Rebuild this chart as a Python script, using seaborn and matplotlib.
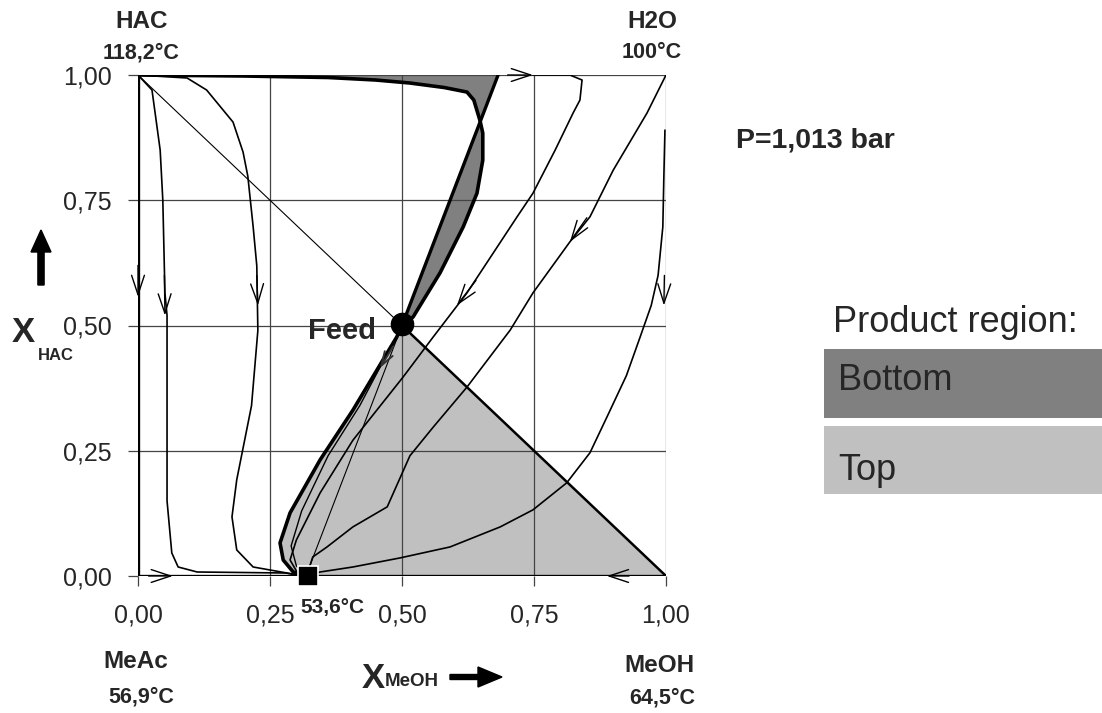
import numpy as np
import pandas as pd
import matplotlib
matplotlib.use("Agg")
import matplotlib.pyplot as plt
import seaborn as sns
from matplotlib.patches import Polygon, Rectangle, FancyArrow
from matplotlib.patches import ArrowStyle

# ---------------- data ----------------
tick_values = [0.0, 0.25, 0.5, 0.75, 1.0]
tick_labels = ["0,00", "0,25", "0,50", "0,75", "1,00"]

# binary edges
edge_left_x = [0.0, 0.0]
edge_left_y = [1.0, 0.0]
edge_bottom_x = [0.0, 1.0]
edge_bottom_y = [0.0, 0.0]

# residue curves (left family)
rc1_x = [0.0, 0.0265, 0.042, 0.047, 0.051, 0.055, 0.055, 0.064, 0.076, 0.112, 0.28, 0.31]
rc1_y = [1.0, 0.97, 0.85, 0.75, 0.565, 0.52, 0.15, 0.046, 0.018, 0.008, 0.006, 0.0]
rc2_x = [0.0, 0.093, 0.13, 0.18, 0.199, 0.208, 0.218, 0.225, 0.227, 0.215, 0.187, 0.178, 0.187, 0.218, 0.282, 0.315]
rc2_y = [1.0, 0.994, 0.97, 0.906, 0.846, 0.798, 0.698, 0.619, 0.49, 0.34, 0.192, 0.118, 0.052, 0.018, 0.006, 0.0]

# separatrix / product region boundaries
sep_top_x = [0.0, 0.2, 0.36, 0.45, 0.515, 0.58, 0.623, 0.636, 0.648, 0.653, 0.653, 0.642, 0.616, 0.572, 0.521, 0.5]
sep_top_y = [1.0, 0.998, 0.995, 0.99, 0.984, 0.975, 0.966, 0.95, 0.908, 0.884, 0.83, 0.764, 0.697, 0.605, 0.517, 0.5]
sep_line_x = [0.682, 0.5]
sep_line_y = [1.0, 0.5]
sep_low_x = [0.5, 0.49, 0.407, 0.345, 0.288, 0.269, 0.275, 0.294, 0.322]
sep_low_y = [0.5, 0.477, 0.331, 0.232, 0.126, 0.066, 0.032, 0.008, 0.0]
top_tri_x = [0.5, 1.0]
top_tri_y = [0.5, 0.0]

# residue curves (right family)
rcA_x = [0.748, 0.818, 0.841, 0.837, 0.824, 0.79, 0.748, 0.718, 0.623, 0.559, 0.502, 0.407, 0.345, 0.30, 0.288, 0.30, 0.318]
rcA_y = [1.0, 1.0, 0.99, 0.95, 0.924, 0.85, 0.764, 0.717, 0.565, 0.477, 0.397, 0.271, 0.166, 0.072, 0.032, 0.01, 0.0]
rcB_x = [1.0, 0.964, 0.9, 0.856, 0.818, 0.748, 0.705, 0.623, 0.559, 0.515, 0.472, 0.407, 0.358, 0.331, 0.32]
rcB_y = [1.0, 0.924, 0.81, 0.717, 0.667, 0.565, 0.491, 0.377, 0.297, 0.24, 0.138, 0.098, 0.058, 0.038, 0.002]
rcC_x = [0.998, 0.996, 0.994, 0.985, 0.972, 0.951, 0.925, 0.888, 0.856, 0.812, 0.748, 0.686, 0.591, 0.496, 0.407, 0.345, 0.322]
rcC_y = [0.89, 0.80, 0.697, 0.60, 0.54, 0.477, 0.40, 0.317, 0.246, 0.186, 0.132, 0.098, 0.058, 0.036, 0.018, 0.008, 0.0]
rcD_x = [0.495, 0.47, 0.42, 0.36, 0.31, 0.29, 0.30, 0.32]
rcD_y = [0.485, 0.44, 0.34, 0.24, 0.13, 0.06, 0.02, 0.0]

# straight balance lines
diag_x = [0.0, 0.5]
diag_y = [1.0, 0.5]
bal_x = [0.318, 0.5]
bal_y = [0.0, 0.5]

# special points
feed_x, feed_y = 0.5, 0.503
azeo_x, azeo_y = 0.322, 0.0

# arrowheads: (tip_x, tip_y, tail_x, tail_y)
arrow_tips = [
    (0.0, 0.557, 0.0, 0.62),
    (0.051, 0.52, 0.05, 0.60),
    (0.227, 0.54, 0.225, 0.60),
    (0.748, 1.0, 0.70, 1.0),
    (0.604, 0.54, 0.64, 0.59),
    (0.818, 0.667, 0.85, 0.715),
    (0.996, 0.54, 0.997, 0.60),
    (0.066, 0.0, 0.02, 0.0),
    (0.888, 0.0, 0.93, 0.0),
]

# legend
legend_labels = ["Bottom", "Top"]
legend_colors = ["#808080", "#c0c0c0"]

# ---------------- plot ----------------
sns.set_style("white")
plt.rcParams["font.family"] = ["Liberation Sans", "DejaVu Sans"]

W, H = 1102, 713
fig = plt.figure(figsize=(W / 100, H / 100), dpi=100)
ax = fig.add_axes([138 / W, 1 - 576 / H, 528 / W, 501 / H])
ax.set_xlim(0, 1)
ax.set_ylim(0, 1)


def line(x, y, lw, color="black", z=3):
    df = pd.DataFrame({"x": x, "y": y})
    sns.lineplot(data=df, x="x", y="y", sort=False, estimator=None, ax=ax,
                 color=color, lw=lw, zorder=z)


# regions
light = list(zip(top_tri_x, top_tri_y)) + [(azeo_x, 0.0)] + list(zip(sep_low_x[::-1], sep_low_y[::-1]))
ax.add_patch(Polygon(light, closed=True, facecolor="#c0c0c0", edgecolor="none", zorder=1))
dark = list(zip(sep_top_x, sep_top_y)) + list(zip(sep_line_x[::-1], sep_line_y[::-1]))
ax.add_patch(Polygon(dark, closed=True, facecolor="#808080", edgecolor="none", zorder=1))

# grid
for v in tick_values:
    ax.axvline(v, color="#444444", lw=0.9, zorder=2)
    ax.axhline(v, color="#444444", lw=0.9, zorder=2)

# curves
line(edge_left_x, edge_left_y, 2.4)
line(edge_bottom_x, edge_bottom_y, 2.4)
line(rc1_x, rc1_y, 1.2)
line(rc2_x, rc2_y, 1.2)
line(rcA_x, rcA_y, 1.2)
line(rcB_x, rcB_y, 1.2)
line(rcC_x, rcC_y, 1.2)
line(rcD_x, rcD_y, 1.0)
line(diag_x, diag_y, 0.8)
line(bal_x, bal_y, 0.8)
line(sep_top_x, sep_top_y, 2.6)
line(sep_line_x, sep_line_y, 2.4)
line(sep_low_x, sep_low_y, 2.6)
line(top_tri_x, top_tri_y, 1.8)

# arrowheads
style = ArrowStyle("->", head_length=1.0, head_width=0.33)
for tx, ty, sx, sy in arrow_tips:
    ax.annotate("", xy=(tx, ty), xytext=(sx, sy),
                arrowprops=dict(arrowstyle=style, mutation_scale=14, lw=1.0,
                                color="black", shrinkA=0, shrinkB=0), zorder=4)
# small feed arrow
ax.annotate("", xy=(0.458, 0.415), xytext=(0.483, 0.458),
            arrowprops=dict(arrowstyle=style, mutation_scale=10, lw=1.4,
                            color="#333333", shrinkA=0, shrinkB=0), zorder=4)

# points
ax.plot([feed_x], [feed_y], marker="o", ms=16, color="black", zorder=6, clip_on=False)
ax.plot([azeo_x], [azeo_y], marker="s", ms=15, color="black", mec="white", mew=1.2,
        zorder=6, clip_on=False)

# axes styling
for s in ax.spines.values():
    s.set_visible(False)
ax.set_xticks(tick_values)
ax.set_xticklabels(tick_labels)
ax.set_yticks(tick_values)
ax.set_yticklabels(tick_labels)
ax.tick_params(axis="both", direction="out", length=7, width=0.9, color="#444444",
               labelsize=18, bottom=True, left=True)
ax.tick_params(axis="x", pad=13)
ax.tick_params(axis="y", pad=12)
ax.set_xlabel("")
ax.set_ylabel("")


def ftext(px, py, s, **kw):
    fig.text(px / W, 1 - py / H, s, **kw)


ftext(142, 22, "HAC", ha="center", va="center", fontsize=17.5, fontweight="bold")
ftext(141, 53, "118,2°C", ha="center", va="center", fontsize=15.5, fontweight="bold")
ftext(652, 22, "H2O", ha="center", va="center", fontsize=17.5, fontweight="bold")
ftext(652, 53, "100°C", ha="center", va="center", fontsize=15.5, fontweight="bold")
ftext(136, 662, "MeAc", ha="center", va="center", fontsize=17.5, fontweight="bold")
ftext(141, 697, "56,9°C", ha="center", va="center", fontsize=15.5, fontweight="bold")
ftext(659, 666, "MeOH", ha="center", va="center", fontsize=17.5, fontweight="bold")
ftext(662, 698, "64,5°C", ha="center", va="center", fontsize=15.5, fontweight="bold")
ftext(332, 607, "53,6°C", ha="center", va="center", fontsize=15, fontweight="bold")
ftext(342, 331, "Feed", ha="center", va="center", fontsize=21, fontweight="bold")
ftext(736, 147, "P=1,013 bar", ha="left", va="baseline", fontsize=20.5, fontweight="bold")

# axis titles
ftext(23, 333, "X", ha="center", va="center", fontsize=25, fontweight="bold")
ftext(56, 356, "HAC", ha="center", va="center", fontsize=12, fontweight="bold")
ftext(373, 678, "X", ha="center", va="center", fontsize=25, fontweight="bold")
ftext(412, 682, "MeOH", ha="center", va="center", fontsize=13.5, fontweight="bold")
fig.patches.append(FancyArrow(41 / W, 1 - 285 / H, 0, 55 / H, width=4 / H,
                              head_width=20 / W, head_length=22 / H,
                              length_includes_head=True, color="black",
                              transform=fig.transFigure, figure=fig))
fig.patches.append(FancyArrow(450 / W, 1 - 677 / H, 52 / W, 0, width=5 / H,
                              head_width=20 / H, head_length=24 / W,
                              length_includes_head=True, color="black",
                              transform=fig.transFigure, figure=fig))

# legend block
ftext(833, 332, "Product region:", ha="left", va="baseline", fontsize=26)
box_tops = [349, 426]
box_h = [69, 68]
baselines = [390, 480]
for lab, col, top, h, bl in zip(legend_labels, legend_colors, box_tops, box_h, baselines):
    fig.patches.append(Rectangle((824 / W, 1 - (top + h) / H), (W - 824) / W, h / H,
                                 facecolor=col, edgecolor="none",
                                 transform=fig.transFigure, figure=fig))
    ftext(838, bl, lab, ha="left", va="baseline", fontsize=26)

fig.savefig("out.png", dpi=100)
